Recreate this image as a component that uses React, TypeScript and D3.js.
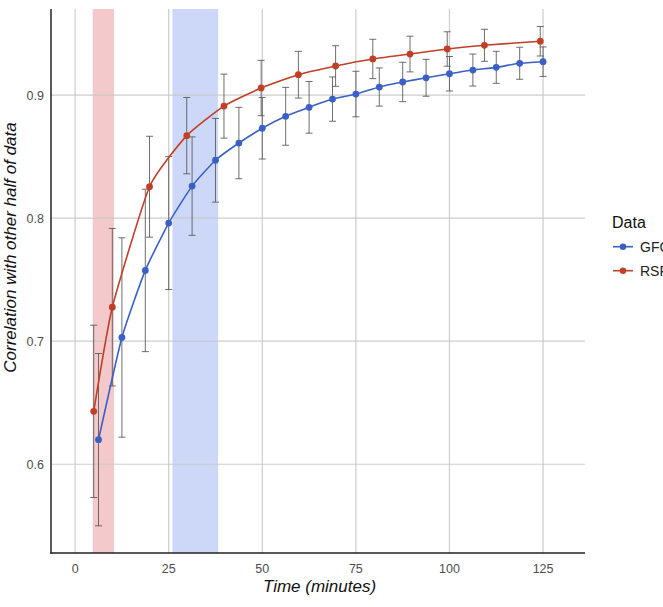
import React from "react";
import * as d3 from "d3";

// GFC runs: cumulative scan time (minutes), mean split-half correlation, +/- spread
const gfcTimes = [6.25, 12.5, 18.75, 25, 31.25, 37.5, 43.75, 50, 56.25, 62.5, 68.75, 75, 81.25, 87.5, 93.75, 100, 106.25, 112.5, 118.75, 125];
const gfcMean = [0.62, 0.703, 0.7575, 0.796, 0.826, 0.847, 0.861, 0.873, 0.8827, 0.89, 0.8967, 0.9008, 0.9065, 0.9106, 0.914, 0.9173, 0.9203, 0.9225, 0.9258, 0.9271];
const gfcErr = [0.07, 0.081, 0.066, 0.054, 0.04, 0.034, 0.029, 0.025, 0.0235, 0.021, 0.018, 0.0185, 0.0155, 0.016, 0.015, 0.014, 0.013, 0.013, 0.013, 0.012];

// RSFC runs
const rsfcTimes = [4.97, 9.94, 19.88, 29.82, 39.76, 49.7, 59.64, 69.58, 79.52, 89.46, 99.4, 109.34, 124.25];
const rsfcMean = [0.643, 0.7276, 0.8255, 0.867, 0.891, 0.9057, 0.9165, 0.9236, 0.9293, 0.9333, 0.9374, 0.9404, 0.9437];
const rsfcErr = [0.07, 0.064, 0.041, 0.031, 0.026, 0.0225, 0.019, 0.0165, 0.016, 0.0145, 0.014, 0.013, 0.012];

// highlighted time windows
const rsfcBand = [4.7, 10.4];
const gfcBand = [26, 38.2];

const xTicks = [0, 25, 50, 75, 100, 125];
const yTicks = [0.6, 0.7, 0.8, 0.9];

const BLUE = "#3a60c6";
const RED = "#c13f26";
const FONT = "'Liberation Sans', Arial, Helvetica, sans-serif";

type Pt = { t: number; m: number; e: number };

export default function App() {
  const width = 663;
  const height = 607;
  const margin = { top: 9, right: 78, bottom: 54, left: 51 };

  const x = d3
    .scaleLinear()
    .domain([-6.44, 136.2])
    .range([margin.left, width - margin.right]);
  const y = d3
    .scaleLinear()
    .domain([0.5279, 0.9699])
    .range([height - margin.bottom, margin.top]);

  const gfc: Pt[] = gfcTimes.map((t, i) => ({ t, m: gfcMean[i], e: gfcErr[i] }));
  const rsfc: Pt[] = rsfcTimes.map((t, i) => ({ t, m: rsfcMean[i], e: rsfcErr[i] }));

  const line = d3
    .line<Pt>()
    .x((d) => x(d.t))
    .y((d) => y(d.m))
    .curve(d3.curveCardinal.tension(0.5));

  const [x0, x1] = x.range();
  const [y0, y1] = y.range();

  const series = [
    { name: "GFC", data: gfc, color: BLUE },
    { name: "RSFC", data: rsfc, color: RED },
  ];

  const errorBars = (data: Pt[], key: string) =>
    data.map((d, i) => {
      const cx = x(d.t);
      const top = y(d.m + d.e);
      const bot = y(d.m - d.e);
      return (
        <g key={key + i} stroke="#555" strokeWidth={1} strokeOpacity={0.85}>
          <line x1={cx} x2={cx} y1={top} y2={bot} />
          <line x1={cx - 3.5} x2={cx + 3.5} y1={top} y2={top} />
          <line x1={cx - 3.5} x2={cx + 3.5} y1={bot} y2={bot} />
        </g>
      );
    });

  return (
    <div style={{ position: "absolute", left: 0, top: 0 }}>
      <svg width={width} height={height} style={{ display: "block", background: "#fff" }}>
        {/* shaded windows */}
        <rect x={x(rsfcBand[0])} width={x(rsfcBand[1]) - x(rsfcBand[0])} y={y1} height={y0 - y1} fill="#f3c9cb" />
        <rect x={x(gfcBand[0])} width={x(gfcBand[1]) - x(gfcBand[0])} y={y1} height={y0 - y1} fill="#cdd8f8" />

        {/* grid */}
        <g stroke="#c8c8c8" strokeWidth={1.2} strokeOpacity={0.9}>
          {xTicks.map((t) => (
            <line key={"gx" + t} x1={x(t)} x2={x(t)} y1={y1} y2={y0} />
          ))}
          {yTicks.map((t) => (
            <line key={"gy" + t} x1={x0} x2={x1} y1={y(t)} y2={y(t)} />
          ))}
        </g>

        {errorBars(rsfc, "re")}
        {errorBars(gfc, "ge")}

        {series.map((s) => (
          <g key={s.name}>
            <path d={line(s.data) || ""} fill="none" stroke={s.color} strokeWidth={1.6} />
            {s.data.map((d, i) => (
              <circle key={i} cx={x(d.t)} cy={y(d.m)} r={3.4} fill={s.color} />
            ))}
          </g>
        ))}

        {/* axes */}
        <g stroke="#222" strokeWidth={1.5}>
          <line x1={x0} x2={x0} y1={y1} y2={y0 + 0.75} />
          <line x1={x0 - 0.75} x2={x1} y1={y0} y2={y0} />
        </g>

        <g fontFamily={FONT} fontSize={12.5} fill="#4d4d4d">
          {xTicks.map((t) => (
            <text key={"tx" + t} x={x(t)} y={573} textAnchor="middle">
              {t}
            </text>
          ))}
          {yTicks.map((t) => (
            <text key={"ty" + t} x={44} y={y(t) + 4.5} textAnchor="end">
              {d3.format(".1f")(t)}
            </text>
          ))}
        </g>

        <text x={319.5} y={592} fontFamily={FONT} fontSize={17} fontStyle="italic" textAnchor="middle" fill="#111">
          Time (minutes)
        </text>
        <text
          transform={`translate(15.5, 247.5) rotate(-90)`}
          fontFamily={FONT}
          fontSize={17}
          fontStyle="italic"
          textAnchor="middle"
          fill="#111"
        >
          Correlation with other half of data
        </text>

        {/* legend, running past the right edge */}
        <g fontFamily={FONT}>
          <text x={612} y={227.5} fontSize={16} fill="#111">
            Data
          </text>
          {series.map((s, i) => {
            const ly = 246.7 + i * 24;
            return (
              <g key={"lg" + s.name}>
                <line x1={613} x2={633} y1={ly} y2={ly} stroke={s.color} strokeWidth={1.6} />
                <circle cx={623} cy={ly} r={3.2} fill={s.color} />
                <text x={640} y={ly + 5} fontSize={14} fill="#222">
                  {s.name}
                </text>
              </g>
            );
          })}
        </g>
      </svg>
    </div>
  );
}
